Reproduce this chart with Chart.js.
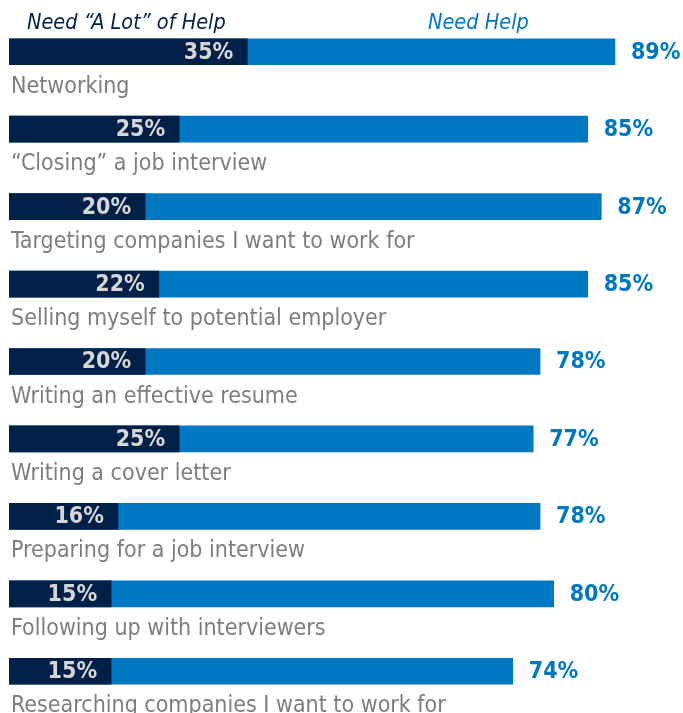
<!DOCTYPE html>
<html>
<head>
<meta charset="utf-8">
<script src="https://cdn.jsdelivr.net/npm/chart.js@4"></script>
<style>
  html, body { margin: 0; padding: 0; background: #fff; }
  #wrap { width: 683px; height: 713px; }
</style>
</head>
<body>
<div id="wrap"><canvas id="chart" width="683" height="713"></canvas></div>
<script>
const categories = [
    'Networking',
    '\u201cClosing\u201d a job interview',
    'Targeting companies I want to work for',
    'Selling myself to potential employer',
    'Writing an effective resume',
    'Writing a cover letter',
    'Preparing for a job interview',
    'Following up with interviewers',
    'Researching companies I want to work for'
];
const needALotOfHelp = [35, 25, 20, 22, 20, 25, 16, 15, 15];
const needHelp = [89, 85, 87, 85, 78, 77, 78, 80, 74];
const seriesNames = ['Need \u201cA Lot\u201d of Help', 'Need Help'];

const NAVY = '#002047';
const BLUE = '#0078c1';
const FONT = '"DejaVu Sans Condensed", "Liberation Sans Narrow", "Liberation Sans", sans-serif';

// labels inside the dark bars, totals after the blue bars, category names below each bar
const barText = {
    id: 'barText',
    afterDatasetsDraw(chart) {
        const ctx = chart.ctx;
        const dark = chart.getDatasetMeta(0).data;
        const light = chart.getDatasetMeta(1).data;
        ctx.save();
        ctx.textBaseline = 'middle';
        ctx.font = 'bold 23px ' + FONT;
        dark.forEach((bar, i) => {
            ctx.fillStyle = '#d6d6d6';
            ctx.textAlign = 'right';
            ctx.fillText(needALotOfHelp[i] + '%', bar.x - 14, bar.y + 1);
        });
        light.forEach((bar, i) => {
            ctx.fillStyle = BLUE;
            ctx.textAlign = 'left';
            ctx.fillText(needHelp[i] + '%', bar.x + 16, bar.y + 1);
        });
        ctx.textBaseline = 'alphabetic';
        ctx.font = '23px ' + FONT;
        ctx.fillStyle = '#7d7d7d';
        ctx.textAlign = 'left';
        light.forEach((bar, i) => {
            ctx.fillText(categories[i], 11, bar.y + 41);
        });
        // series headers
        ctx.font = 'italic 21.5px ' + FONT;
        ctx.fillStyle = NAVY;
        ctx.fillText(seriesNames[0], 27, 29);
        ctx.fillStyle = BLUE;
        ctx.fillText(seriesNames[1], 428, 29);
        ctx.restore();
    }
};

new Chart(document.getElementById('chart'), {
    type: 'bar',
    data: {
        labels: categories,
        datasets: [
            {
                label: seriesNames[0],
                data: needALotOfHelp,
                backgroundColor: NAVY,
                barThickness: 26,
                grouped: false,
                order: 0
            },
            {
                label: seriesNames[1],
                data: needHelp,
                backgroundColor: BLUE,
                barThickness: 26,
                grouped: false,
                order: 1
            }
        ]
    },
    options: {
        indexAxis: 'y',
        responsive: false,
        animation: false,
        layout: { padding: { left: 9, right: 0, top: 13, bottom: 3 } },
        scales: {
            x: { display: false, min: 0, max: 99 },
            y: { display: false }
        },
        plugins: {
            legend: { display: false },
            tooltip: { enabled: false }
        }
    },
    plugins: [barText]
});
</script>
</body>
</html>
